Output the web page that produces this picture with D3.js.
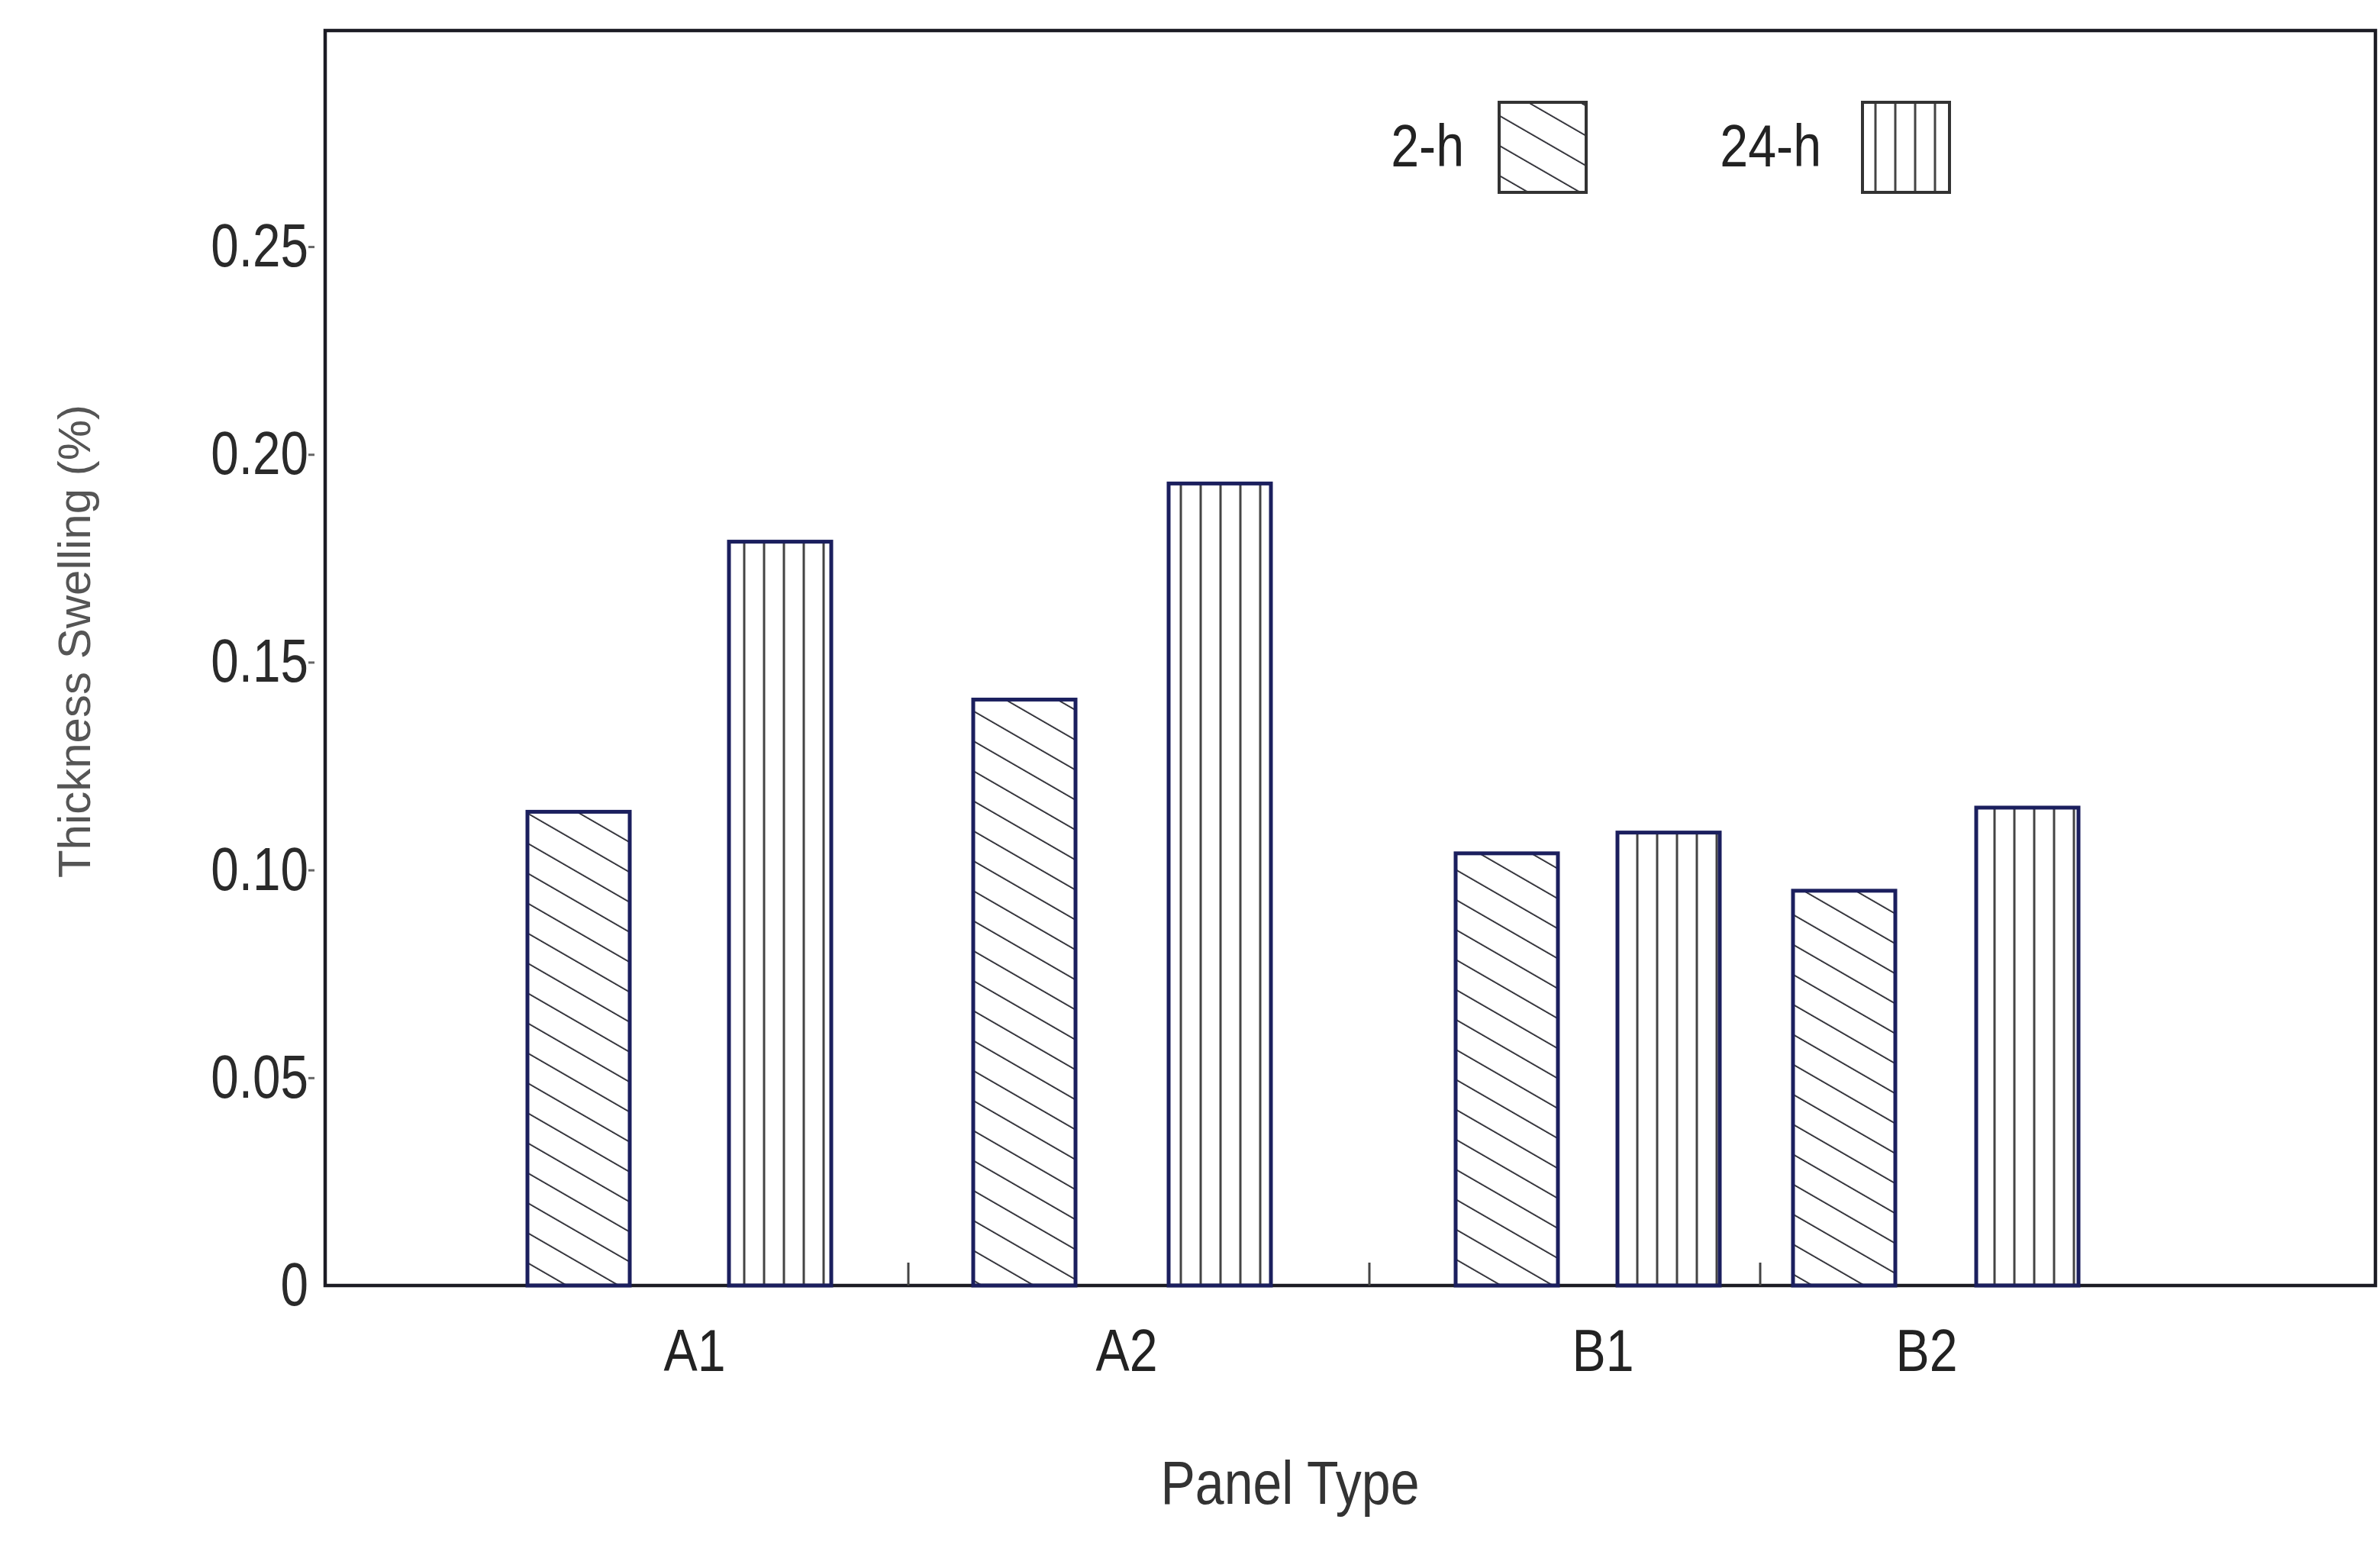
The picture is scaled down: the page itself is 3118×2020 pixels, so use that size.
<!DOCTYPE html>
<html lang="en">
<head>
  <meta charset="UTF-8">
  <title>Thickness Swelling</title>
  <script src="https://d3js.org/d3.v7.min.js"></script>
  <style>
    body { margin: 0; background: #fff; font-family: "Liberation Sans", Arial, sans-serif; }
  </style>
</head>
<body>
  <div id="chart"></div>
  <script>
    // data
    const panels = ["A1", "A2", "B1", "B2"];
    const series = ["2-h", "24-h"];
    const swell2h = [0.114, 0.141, 0.104, 0.095];
    const swell24h = [0.179, 0.193, 0.109, 0.115];
    const yTicks = [0, 0.05, 0.10, 0.15, 0.20, 0.25];
    const yTickLabels = ["0", "0.05", "0.10", "0.15", "0.20", "0.25"];

    // layout (groups are not evenly spaced in the original)
    const groupCenter = [890, 1470, 2080, 2536];
    const groupHalfGap = [132, 128, 106, 120];
    const labelX = [910, 1476, 2100, 2524];
    const axisTickX = [1190, 1794, 2306];

    const W = 3118, H = 2020;
    const margin = { left: 426, top: 40, right: 6, bottom: 336 };
    const barW = 134;
    const ink = "#1c1c24", navy = "#1b1f5e";

    const svg = d3.select("#chart").append("svg")
      .attr("width", W).attr("height", H);

    const defs = svg.append("defs");
    const diag = defs.append("pattern").attr("id", "diag")
      .attr("patternUnits", "userSpaceOnUse").attr("width", 34).attr("height", 34)
      .attr("patternTransform", "rotate(-60)");
    diag.append("line").attr("x1", 0).attr("y1", 0).attr("x2", 0).attr("y2", 34)
      .attr("stroke", ink).attr("stroke-width", 3.5);
    const vert = defs.append("pattern").attr("id", "vert")
      .attr("patternUnits", "userSpaceOnUse").attr("width", 26).attr("height", 40);
    vert.append("line").attr("x1", 13).attr("y1", 0).attr("x2", 13).attr("y2", 40)
      .attr("stroke", "#444").attr("stroke-width", 3);

    const x = d3.scaleLinear().domain([0, W]).range([0, W]);
    const y = d3.scaleLinear().domain([0, 0.302])
      .range([H - margin.bottom, margin.top]);

    // frame
    svg.append("rect")
      .attr("x", margin.left).attr("y", margin.top)
      .attr("width", W - margin.left - margin.right)
      .attr("height", y(0) - margin.top)
      .attr("fill", "none").attr("stroke", ink).attr("stroke-width", 4.5);

    // y axis
    const yAxis = svg.append("g")
      .attr("transform", `translate(${margin.left - 14},0)`)
      .call(d3.axisLeft(y).tickValues(yTicks.slice(1))
        .tickSize(8).tickFormat(() => ""));
    yAxis.select(".domain").remove();
    yAxis.selectAll("line").attr("stroke", "#666").attr("stroke-width", 3);

    svg.selectAll(".ylab").data(yTicks).join("text")
      .attr("class", "ylab")
      .attr("transform", d => `translate(${margin.left - 22},${y(d) + 26}) scale(0.82,1)`)
      .attr("text-anchor", "end")
      .attr("font-size", 80).attr("fill", "#2a2a2a")
      .text((d, i) => yTickLabels[i]);

    // small x-axis ticks between groups
    svg.selectAll(".xt").data(axisTickX).join("line")
      .attr("x1", d => x(d)).attr("x2", d => x(d))
      .attr("y1", y(0) - 30).attr("y2", y(0))
      .attr("stroke", "#444").attr("stroke-width", 3);

    // bars
    const bars = [];
    panels.forEach((p, i) => {
      bars.push({ v: swell2h[i], cx: groupCenter[i] - groupHalfGap[i], fill: "url(#diag)" });
      bars.push({ v: swell24h[i], cx: groupCenter[i] + groupHalfGap[i], fill: "url(#vert)" });
    });
    svg.selectAll(".bar").data(bars).join("rect")
      .attr("class", "bar")
      .attr("x", d => x(d.cx) - barW / 2)
      .attr("y", d => y(d.v))
      .attr("width", barW)
      .attr("height", d => y(0) - y(d.v))
      .attr("fill", d => d.fill)
      .attr("stroke", navy).attr("stroke-width", 5);

    // x labels
    svg.selectAll(".xlab").data(panels).join("text")
      .attr("class", "xlab")
      .attr("transform", (d, i) => `translate(${x(labelX[i])},${y(0) + 112}) scale(0.85,1)`)
      .attr("text-anchor", "middle")
      .attr("font-size", 78).attr("fill", "#222")
      .text(d => d);

    // axis titles
    svg.append("text")
      .attr("transform", `translate(${1690},${H - 50}) scale(0.85,1)`)
      .attr("text-anchor", "middle")
      .attr("font-size", 80).attr("fill", "#333")
      .text("Panel Type");
    svg.append("text")
      .attr("transform", `translate(${118},${840}) rotate(-90)`)
      .attr("text-anchor", "middle")
      .attr("font-size", 60).attr("fill", "#555")
      .text("Thickness Swelling (%)");

    // legend
    const legend = [
      { name: series[0], tx: 1918, bx: 1964, fill: "url(#diag)" },
      { name: series[1], tx: 2386, bx: 2440, fill: "url(#vert)" }
    ];
    legend.forEach(l => {
      svg.append("text")
        .attr("transform", `translate(${l.tx},${218}) scale(0.85,1)`)
        .attr("text-anchor", "end")
        .attr("font-size", 78).attr("fill", "#222")
        .text(l.name);
      svg.append("rect")
        .attr("x", l.bx).attr("y", 134).attr("width", 114).attr("height", 118)
        .attr("fill", l.fill).attr("stroke", "#333").attr("stroke-width", 4);
    });
  </script>
</body>
</html>
